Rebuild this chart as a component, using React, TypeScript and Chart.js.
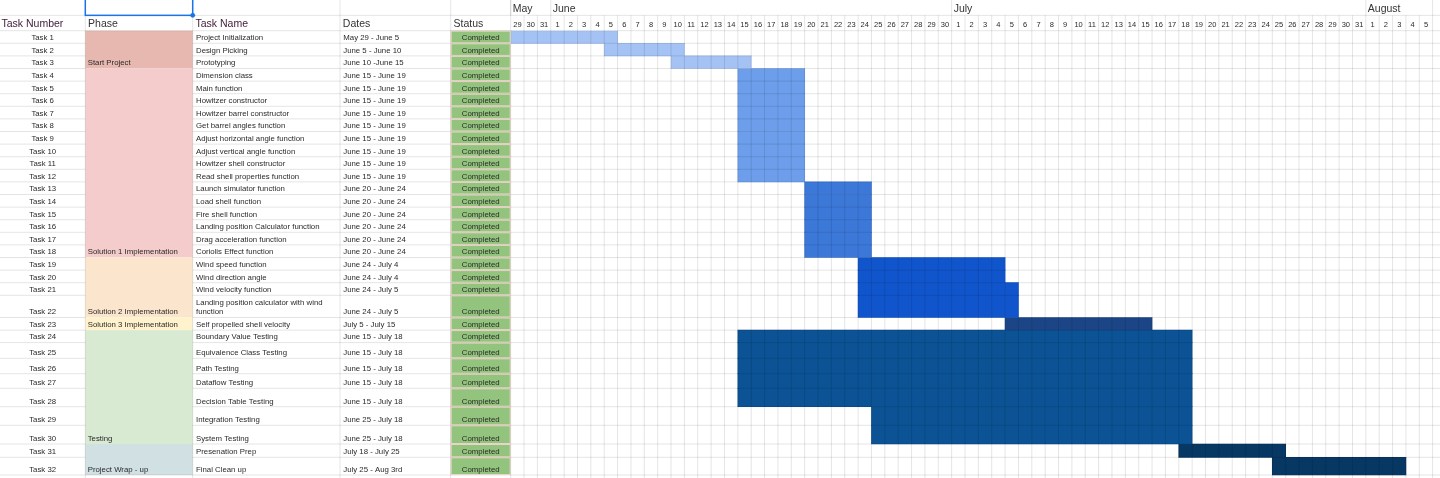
import React, { useEffect, useRef } from 'react';
import { Chart, registerables } from 'chart.js';

Chart.register(...registerables);

// ---------------- data ----------------
const TASK_NUMBERS = [
  'Task 1', 'Task 2', 'Task 3', 'Task 4', 'Task 5', 'Task 6', 'Task 7', 'Task 8',
  'Task 9', 'Task 10', 'Task 11', 'Task 12', 'Task 13', 'Task 14', 'Task 15', 'Task 16',
  'Task 17', 'Task 18', 'Task 19', 'Task 20', 'Task 21', 'Task 22', 'Task 23', 'Task 24',
  'Task 25', 'Task 26', 'Task 27', 'Task 28', 'Task 29', 'Task 30', 'Task 31', 'Task 32',
];

const TASK_NAMES = [
  'Project Initialization', 'Design Picking', 'Prototyping', 'Dimension class', 'Main function',
  'Howitzer constructor', 'Howitzer barrel constructor', 'Get barrel angles function',
  'Adjust horizontal angle function', 'Adjust vertical angle function', 'Howitzer shell constructor',
  'Read shell properties function', 'Launch simulator function', 'Load shell function',
  'Fire shell function', 'Landing position Calculator function', 'Drag acceleration function',
  'Coriolis Effect function', 'Wind speed function', 'Wind direction angle', 'Wind velocity function',
  'Landing position calculator with wind function', 'Self propelled shell velocity',
  'Boundary Value Testing', 'Equivalence Class Testing', 'Path Testing', 'Dataflow Testing',
  'Decision Table Testing', 'Integration Testing', 'System Testing', 'Presenation Prep', 'Final Clean up',
];

const TASK_DATES = [
  'May 29 - June 5', 'June 5 - June 10', 'June 10 -June 15',
  'June 15 - June 19', 'June 15 - June 19', 'June 15 - June 19', 'June 15 - June 19', 'June 15 - June 19',
  'June 15 - June 19', 'June 15 - June 19', 'June 15 - June 19', 'June 15 - June 19',
  'June 20 - June 24', 'June 20 - June 24', 'June 20 - June 24', 'June 20 - June 24', 'June 20 - June 24',
  'June 20 - June 24',
  'June 24 - July 4', 'June 24 - July 4', 'June 24 - July 5', 'June 24 - July 5',
  'July 5 - July 15',
  'June 15 - July 18', 'June 15 - July 18', 'June 15 - July 18', 'June 15 - July 18', 'June 15 - July 18',
  'June 25 - July 18', 'June 25 - July 18',
  'July 18 - July 25', 'July 25 - Aug 3rd',
];

const TASK_STATUS = [
  'Completed', 'Completed', 'Completed', 'Completed', 'Completed', 'Completed', 'Completed', 'Completed',
  'Completed', 'Completed', 'Completed', 'Completed', 'Completed', 'Completed', 'Completed', 'Completed',
  'Completed', 'Completed', 'Completed', 'Completed', 'Completed', 'Completed', 'Completed', 'Completed',
  'Completed', 'Completed', 'Completed', 'Completed', 'Completed', 'Completed', 'Completed', 'Completed',
];

// month-day of first and last (inclusive) day of each task bar
const TASK_START = [
  '5-29', '6-5', '6-10',
  '6-15', '6-15', '6-15', '6-15', '6-15', '6-15', '6-15', '6-15', '6-15',
  '6-20', '6-20', '6-20', '6-20', '6-20', '6-20',
  '6-24', '6-24', '6-24', '6-24',
  '7-5',
  '6-15', '6-15', '6-15', '6-15', '6-15',
  '6-25', '6-25',
  '7-18', '7-25',
];
const TASK_END = [
  '6-5', '6-10', '6-15',
  '6-19', '6-19', '6-19', '6-19', '6-19', '6-19', '6-19', '6-19', '6-19',
  '6-24', '6-24', '6-24', '6-24', '6-24', '6-24',
  '7-4', '7-4', '7-5', '7-5',
  '7-15',
  '7-18', '7-18', '7-18', '7-18', '7-18',
  '7-18', '7-18',
  '7-25', '8-3',
];

const PHASE_NAMES = [
  'Start Project', 'Solution 1 Implementation', 'Solution 2 Implementation',
  'Solution 3 Implementation', 'Testing', 'Project Wrap - up',
];
const PHASE_ROW_COUNTS = [3, 15, 4, 1, 7, 2];

const HEADERS = ['Task Number', 'Phase', 'Task Name', 'Dates', 'Status'];

const DAY_LABELS = [
  '29', '30', '31',
  '1', '2', '3', '4', '5', '6', '7', '8', '9', '10', '11', '12', '13', '14', '15',
  '16', '17', '18', '19', '20', '21', '22', '23', '24', '25', '26', '27', '28', '29', '30',
  '1', '2', '3', '4', '5', '6', '7', '8', '9', '10', '11', '12', '13', '14', '15', '16',
  '17', '18', '19', '20', '21', '22', '23', '24', '25', '26', '27', '28', '29', '30', '31',
  '1', '2', '3', '4', '5',
];
const MONTHS = ['May', 'June', 'July', 'August'];
const MONTH_FIRST_DAY = ['5-29', '6-1', '7-1', '8-1'];

// ---------------- styles / layout ----------------
const FONT = '"Liberation Sans", Arial, Helvetica, sans-serif';
const W = 1440;
const H = 478;
const COL_X = [0, 85.3, 192.7, 340, 450.7, 510.7];
const HEADER_H = 15.35;
const ROW_HEIGHTS = [
  12.6, 12.6, 12.6, 12.6, 12.6, 12.6, 12.6, 12.6, 12.6, 12.6, 12.6, 12.6, 12.6, 12.6,
  12.6, 12.6, 12.6, 12.6, 12.6, 12.6, 12.6,
  22.2, 12.6, 12.5, 15.7, 15.4, 14.6, 18.4, 18.6, 18.7, 13.3, 17.7,
];
const PHASE_COLORS = ['#e6b8af', '#f4cccc', '#fce5cd', '#fff2cc', '#d9ead3', '#d0e0e3'];
const BAR_SHADES = ['#a4c2f4', '#6d9eeb', '#3c78d8', '#1155cc', '#1c4587', '#0b5394', '#073763'];
const TASK_SHADE = [
  0, 0, 0, 1, 1, 1, 1, 1, 1, 1, 1, 1, 2, 2, 2, 2, 2, 2, 3, 3, 3, 3, 4,
  5, 5, 5, 5, 5, 5, 5, 6, 6,
];
const GRID = 'rgba(0,0,0,0.105)';
const TEXT = '#2a2a2a';

// ---------------- helpers ----------------
const dayIndex = (md: string) => {
  const [m, d] = md.split('-').map(Number);
  return Math.round((Date.UTC(2024, m - 1, d) - Date.UTC(2024, 4, 29)) / 86400000);
};

const ROW_TOPS: number[] = [];
{
  let acc = 0;
  for (const h of ROW_HEIGHTS) {
    ROW_TOPS.push(acc);
    acc += h;
  }
}
const CHART_TOP = HEADER_H * 2;
const Y_MAX = H - CHART_TOP;

const wrapText = (ctx: CanvasRenderingContext2D, text: string, maxW: number) => {
  const words = text.split(' ');
  const lines: string[] = [];
  let cur = '';
  for (const w of words) {
    const t = cur ? cur + ' ' + w : w;
    if (ctx.measureText(t).width > maxW && cur) {
      lines.push(cur);
      cur = w;
    } else cur = t;
  }
  if (cur) lines.push(cur);
  return lines;
};

const tablePlugin = {
  id: 'sheetTable',
  beforeDraw(chart: any) {
    const { ctx } = chart;
    ctx.save();
    ctx.fillStyle = '#ffffff';
    ctx.fillRect(0, 0, W, H);
    ctx.restore();
  },
  afterDatasetsDraw(chart: any) {
    const { ctx, scales } = chart;
    const xs = scales.x;
    const ys = scales.y;
    const rowTop = (i: number) => ys.getPixelForValue(ROW_TOPS[i]);
    const rowBot = (i: number) => ys.getPixelForValue(ROW_TOPS[i] + ROW_HEIGHTS[i]);
    const lastBottom = rowBot(ROW_HEIGHTS.length - 1);
    ctx.save();

    // phase merged cells
    let r = 0;
    PHASE_ROW_COUNTS.forEach((n, p) => {
      const t = rowTop(r);
      const b = rowBot(r + n - 1);
      ctx.fillStyle = PHASE_COLORS[p];
      ctx.fillRect(COL_X[1], t, COL_X[2] - COL_X[1], b - t);
      r += n;
    });

    // grid lines
    ctx.strokeStyle = GRID;
    ctx.lineWidth = 1;
    const hLine = (y: number, x0: number, x1: number) => {
      ctx.beginPath();
      ctx.moveTo(x0, y);
      ctx.lineTo(x1, y);
      ctx.stroke();
    };
    const vLine = (x: number, y0: number, y1: number) => {
      ctx.beginPath();
      ctx.moveTo(x, y0);
      ctx.lineTo(x, y1);
      ctx.stroke();
    };
    hLine(HEADER_H, 0, W);
    hLine(CHART_TOP, 0, W);
    ROW_HEIGHTS.forEach((_, i) => {
      const y = rowBot(i);
      hLine(y, 0, COL_X[1]);
      hLine(y, COL_X[2], W);
    });
    hLine(lastBottom, COL_X[1], COL_X[2]);
    COL_X.slice(1).forEach((x) => vLine(x, 0, H));
    for (let i = 1; i <= DAY_LABELS.length; i++) {
      vLine(xs.getPixelForValue(i), HEADER_H, H);
    }
    MONTH_FIRST_DAY.forEach((md) => vLine(xs.getPixelForValue(dayIndex(md)), 0, HEADER_H));
    vLine(xs.getPixelForValue(DAY_LABELS.length), 0, HEADER_H);

    // status cells
    TASK_STATUS.forEach((_, i) => {
      const t = rowTop(i);
      const b = rowBot(i);
      ctx.fillStyle = '#93c47d';
      ctx.fillRect(COL_X[4], t, COL_X[5] - COL_X[4], b - t);
      ctx.strokeStyle = '#ecd2cb';
      ctx.strokeRect(COL_X[4] + 0.5, t + 0.5, COL_X[5] - COL_X[4] - 1, b - t - 1);
    });

    // header texts
    ctx.textBaseline = 'alphabetic';
    ctx.font = `10.5px ${FONT}`;
    const headerColors = ['#43203f', '#333333', '#43203f', '#333333', '#333333'];
    HEADERS.forEach((h, i) => {
      ctx.fillStyle = headerColors[i];
      ctx.textAlign = 'left';
      ctx.fillText(h, COL_X[i] + (i === 0 ? 1.5 : 2.8), CHART_TOP - 3.6);
    });

    // row texts
    ctx.font = `7.8px ${FONT}`;
    ctx.fillStyle = TEXT;
    TASK_NUMBERS.forEach((t, i) => {
      const base = rowBot(i) - 3.2;
      ctx.textAlign = 'center';
      ctx.fillText(t, (COL_X[0] + COL_X[1]) / 2, base);
      ctx.fillText(TASK_STATUS[i], (COL_X[4] + COL_X[5]) / 2, base);
      ctx.textAlign = 'left';
      const lines = wrapText(ctx, TASK_NAMES[i], COL_X[3] - COL_X[2] - 6);
      lines.forEach((ln, k) => {
        ctx.fillText(ln, COL_X[2] + 3.3, base - (lines.length - 1 - k) * 9.3);
      });
      ctx.fillText(TASK_DATES[i], COL_X[3] + 3.3, base);
    });
    r = 0;
    PHASE_ROW_COUNTS.forEach((n, p) => {
      ctx.fillText(PHASE_NAMES[p], COL_X[1] + 2.4, rowBot(r + n - 1) - 3.2);
      r += n;
    });

    // selected cell outline (above "Phase")
    ctx.strokeStyle = '#1a73e8';
    ctx.lineWidth = 1.5;
    ctx.strokeRect(COL_X[1], -2, COL_X[2] - COL_X[1], HEADER_H + 2);
    ctx.fillStyle = '#1a73e8';
    ctx.beginPath();
    ctx.arc(COL_X[2], HEADER_H, 2.4, 0, Math.PI * 2);
    ctx.fill();

    ctx.restore();
  },
};

export default function App() {
  const ref = useRef<HTMLCanvasElement>(null);

  useEffect(() => {
    if (!ref.current) return;
    const datasets = TASK_NAMES.map((name, i) => ({
      label: name,
      data: [{ x: [dayIndex(TASK_START[i]), dayIndex(TASK_END[i]) + 1], y: ROW_TOPS[i] + ROW_HEIGHTS[i] / 2 }],
      backgroundColor: BAR_SHADES[TASK_SHADE[i]],
      borderWidth: 0,
      barThickness: ROW_HEIGHTS[i],
      grouped: false,
    }));
    const xMax = DAY_LABELS.length + 0.55;
    const chart = new Chart(ref.current, {
      type: 'bar',
      data: { datasets: datasets as any },
      options: {
        animation: false,
        responsive: false,
        devicePixelRatio: 1,
        indexAxis: 'y',
        events: [],
        layout: { padding: { left: COL_X[5], top: 0, right: 0, bottom: 0 } },
        plugins: { legend: { display: false }, tooltip: { enabled: false } },
        scales: {
          x: {
            type: 'linear',
            position: 'top',
            weight: 0,
            min: 0,
            max: xMax,
            offset: false,
            grid: { display: false, drawTicks: false },
            border: { display: false },
            afterBuildTicks: (s: any) => {
              s.ticks = DAY_LABELS.map((_, i) => ({ value: i + 0.5 }));
            },
            afterFit: (s: any) => {
              s.height = HEADER_H;
            },
            ticks: {
              autoSkip: false,
              maxRotation: 0,
              minRotation: 0,
              padding: 1,
              color: TEXT,
              font: { family: FONT, size: 7.5 },
              callback: (_v: any, i: number) => DAY_LABELS[i],
            },
          },
          month: {
            type: 'linear',
            axis: 'x',
            position: 'top',
            weight: 1,
            min: 0,
            max: xMax,
            offset: false,
            grid: { display: false, drawTicks: false },
            border: { display: false },
            afterBuildTicks: (s: any) => {
              s.ticks = MONTH_FIRST_DAY.map((md) => ({ value: dayIndex(md) }));
            },
            afterFit: (s: any) => {
              s.height = HEADER_H;
            },
            ticks: {
              autoSkip: false,
              maxRotation: 0,
              minRotation: 0,
              align: 'start',
              labelOffset: 2,
              padding: 0,
              color: '#333333',
              font: { family: FONT, size: 10.5 },
              callback: (_v: any, i: number) => MONTHS[i],
            },
          },
          y: {
            type: 'linear',
            display: false,
            reverse: true,
            offset: false,
            grid: { offset: false },
            min: 0,
            max: Y_MAX,
          },
        },
      } as any,
      plugins: [tablePlugin],
    });
    return () => chart.destroy();
  }, []);

  return (
    <div style={{ position: 'absolute', left: 0, top: 0, width: W, height: H, background: '#fff' }}>
      <canvas ref={ref} width={W} height={H} style={{ display: 'block', width: W, height: H }} />
    </div>
  );
}
